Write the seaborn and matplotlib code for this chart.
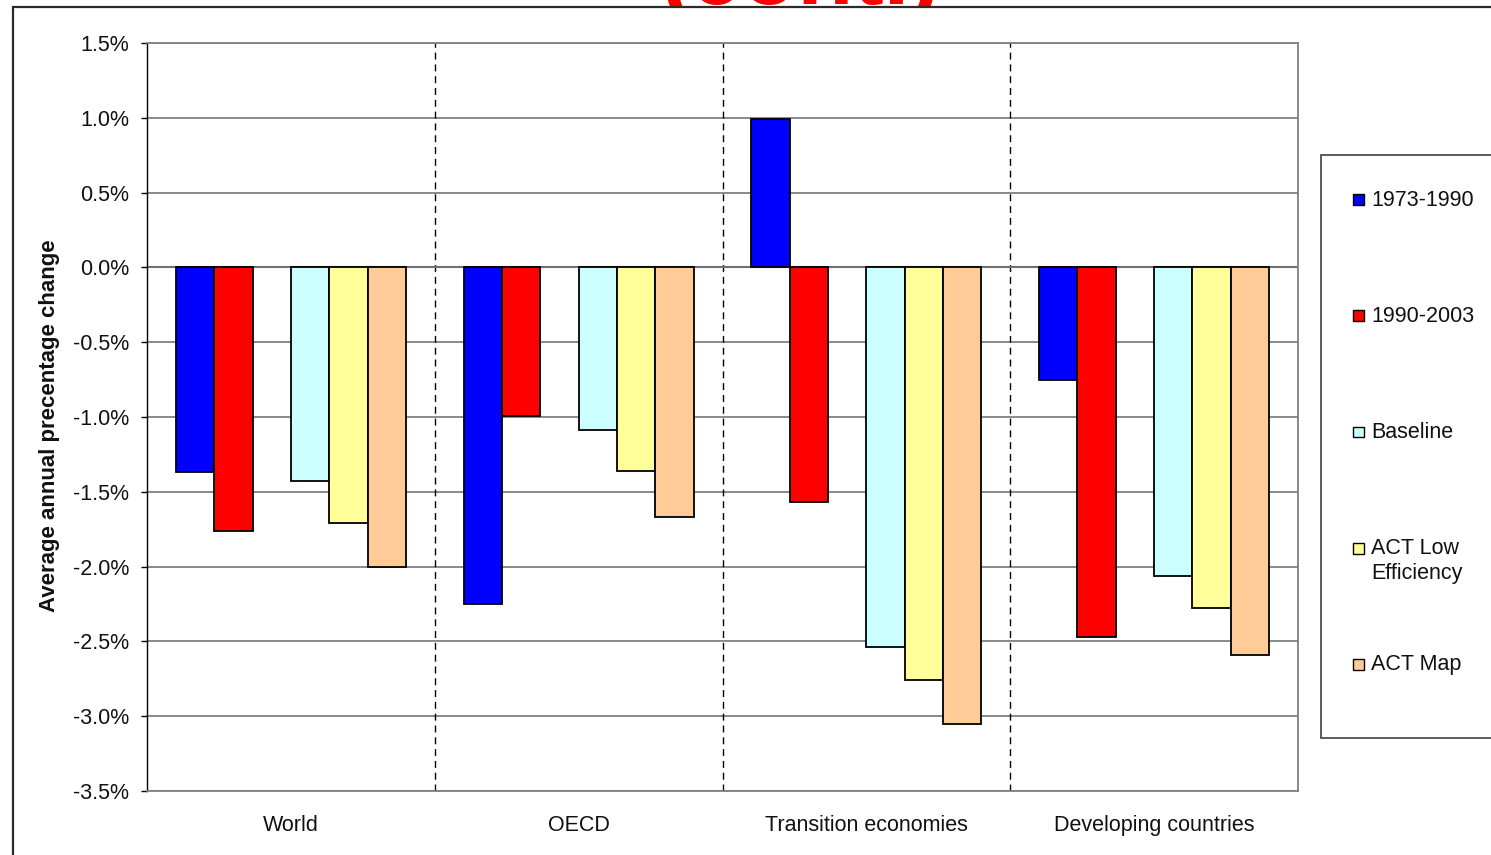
import matplotlib
matplotlib.use("Agg")
import matplotlib.pyplot as plt
from matplotlib.patches import Rectangle
from matplotlib.ticker import FuncFormatter, MultipleLocator
import pandas as pd
import seaborn as sns

# Average annual percentage change by region and period / scenario
regions = ["World", "OECD", "Transition economies", "Developing countries"]
series = ["1973-1990", "1990-2003", "Baseline", "ACT Low Efficiency", "ACT Map"]
legend_labels = ["1973-1990", "1990-2003", "Baseline", "ACT Low\nEfficiency", "ACT Map"]

hist_1973_1990 = [-1.37, -2.25, 0.99, -0.75]
hist_1990_2003 = [-1.76, -0.99, -1.57, -2.47]
baseline = [-1.43, -1.09, -2.54, -2.06]
act_low_eff = [-1.71, -1.36, -2.76, -2.28]
act_map = [-2.00, -1.67, -3.05, -2.59]

colors = ["#0000FF", "#FF0000", "#CCFFFF", "#FFFF99", "#FFCC99"]

GAP = " "  # empty slot between historical and projected bars

rows = []
for name, vals in zip(series, [hist_1973_1990, hist_1990_2003, baseline, act_low_eff, act_map]):
    for reg, v in zip(regions, vals):
        rows.append({"region": reg, "series": name, "value": v})
df = pd.DataFrame(rows)

hue_order = series[:2] + [GAP] + series[2:]
palette = dict(zip(series, colors))
palette[GAP] = "#FFFFFF"

sns.set_theme(style="white")
plt.rcParams["font.family"] = ["Liberation Sans", "DejaVu Sans"]

W, H = 1491, 855
fig = plt.figure(figsize=(W / 100, H / 100), dpi=100)
fig.patch.set_facecolor("white")


def fx(px):
    return px / W


def fy(py):
    return 1 - py / H


# slide title peeking above the chart frame
fig.text(fx(800), fy(4), "(cont.)", color="#FF0000", fontsize=66, fontweight="bold",
         ha="center", va="baseline", zorder=-2)
# chart frame
fig.patches.append(Rectangle((fx(12.5), -0.2), 1.5, fy(7) + 0.2, transform=fig.transFigure,
                             facecolor="white", edgecolor="#2b2b2b", lw=1.6, zorder=-1))

ax = fig.add_axes([fx(147), fy(791), fx(1298) - fx(147), fy(43) - fy(791)])

sns.barplot(data=df, x="region", y="value", hue="series", order=regions,
            hue_order=hue_order, palette=palette, width=0.8, errorbar=None,
            edgecolor="black", linewidth=1.3, saturation=1, legend=False, ax=ax, zorder=3)

ax.set_ylim(-3.5, 1.5)
ax.set_xlim(-0.5, len(regions) - 0.5)
ax.yaxis.set_major_locator(MultipleLocator(0.5))
ax.yaxis.set_major_formatter(FuncFormatter(lambda v, p: f"{v:.1f}%"))
ax.yaxis.grid(True, color="#808080", lw=1.3)
ax.xaxis.grid(False)
ax.set_axisbelow(True)
ax.axhline(0, color="#707070", lw=1.5, zorder=2)

for x in [i + 0.5 for i in range(len(regions) - 1)]:
    ax.axvline(x, color="black", lw=1.0, linestyle=(0, (5, 3.5)), zorder=1)

for side in ["top", "right", "bottom"]:
    ax.spines[side].set_color("#808080")
    ax.spines[side].set_linewidth(1.3)
ax.spines["left"].set_color("black")
ax.spines["left"].set_linewidth(1.0)

ax.tick_params(axis="y", which="major", left=True, direction="out", length=4,
               width=1.0, color="black", pad=9, labelsize=15.5, labelcolor="#111111")
ax.tick_params(axis="x", which="major", bottom=False, length=0, pad=17,
               labelsize=15.5, labelcolor="#111111")
ax.set_xlabel("")
ax.set_ylabel("Average annual precentage change", fontsize=16, fontweight="bold",
              color="#111111")
ax.yaxis.set_label_coords((60 - 147) / (1298 - 147), (791 - 426) / (791 - 43))

# legend panel
fig.patches.append(Rectangle((fx(1321), fy(738)), 0.3, fy(155) - fy(738),
                             transform=fig.transFigure, facecolor="white",
                             edgecolor="#404040", lw=1.2, zorder=3))
y0, step = 200, 116
for i, (lab, col) in enumerate(zip(legend_labels, colors)):
    yc = y0 + i * step
    fig.patches.append(Rectangle((fx(1353), fy(yc + 5.5)), fx(11), 11 / H,
                                 transform=fig.transFigure, facecolor=col,
                                 edgecolor="black", lw=1.0, zorder=4))
    n_lines = lab.count("\n") + 1
    fig.text(fx(1371), fy(yc + 13 * (n_lines - 1)), lab, fontsize=15.5, color="#111111",
             ha="left", va="center", linespacing=1.2, zorder=4)

fig.savefig("out.png", dpi=100, facecolor="white")
